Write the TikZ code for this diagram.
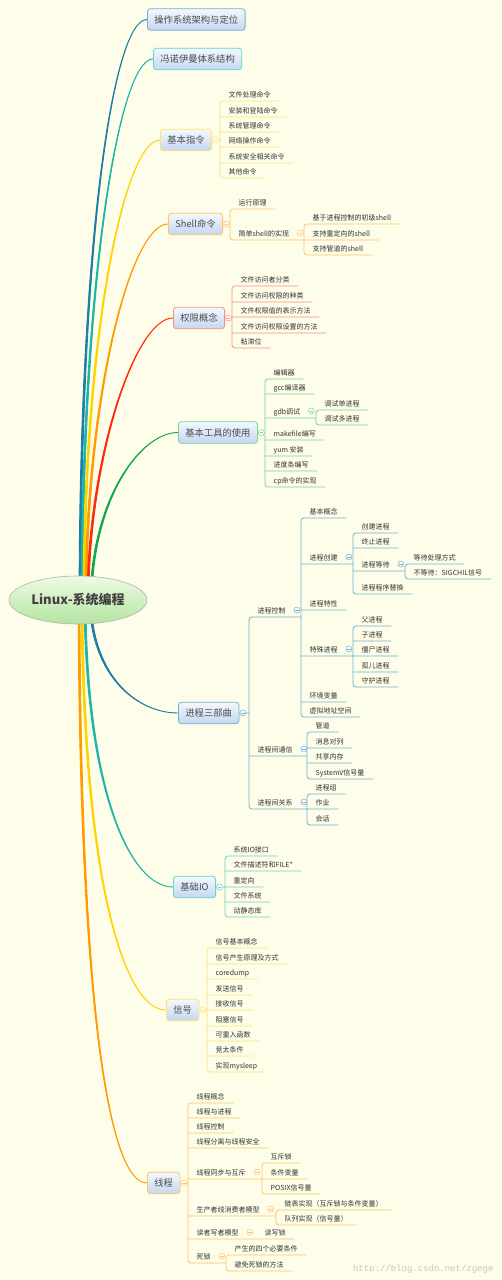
\documentclass[tikz,border=0pt]{standalone}
\usepackage{fontspec}
\setmainfont{Noto Sans CJK SC}
\newfontfamily\urlfont{Liberation Mono}
\usepackage{tikz}
\usetikzlibrary{shapes.geometric,calc}
\definecolor{paper}{HTML}{FDFDE9}
\definecolor{boxtop}{HTML}{F4F8FE}
\definecolor{boxbot}{HTML}{C4D7F0}
\definecolor{hubtop}{HTML}{EEFBE4}
\definecolor{hubbot}{HTML}{B4E4A0}
\definecolor{blueln}{HTML}{1E7DA6}
\definecolor{bluelt}{HTML}{70B2CE}
\definecolor{tealln}{HTML}{1CB6A6}
\definecolor{teallt}{HTML}{68D4C8}
\definecolor{yelln}{HTML}{FFD200}
\definecolor{yellt}{HTML}{FFE26A}
\definecolor{orgln}{HTML}{FF9A00}
\definecolor{orglt}{HTML}{FFC266}
\definecolor{redln}{HTML}{FF2A0A}
\definecolor{redlt}{HTML}{FF8E80}
\definecolor{grnln}{HTML}{10A84C}
\definecolor{grnlt}{HTML}{76D496}
\pgfdeclarelayer{sheet}
\pgfdeclarelayer{wires}
\pgfsetlayers{sheet,wires,main}
\newcommand\hubfont{\fontsize{13}{15}\selectfont\bfseries}
\newcommand\topicfont{\fontsize{9.3}{11}\selectfont}
\newcommand\leaffont{\fontsize{7}{8}\selectfont}

\begin{document}
\begin{tikzpicture}[x=1pt, y=-1pt,
  hub/.style={ellipse, draw=black!30, line width=0.6pt, top color=hubtop, bottom color=hubbot,
              minimum width=138pt, minimum height=48pt, inner sep=0pt, font=\hubfont, text=black!75},
  topic/.style={rectangle, rounded corners=3pt, draw=#1, line width=0.8pt, top color=boxtop,
                bottom color=boxbot, minimum height=21.5pt, inner xsep=7pt, anchor=west,
                font=\topicfont, text=black!70},
  leaf/.style={anchor=south west, inner xsep=8.5pt, inner ysep=1.5pt, text height=6pt,
               text depth=1.5pt, font=\leaffont, text=black!80},
  branch/.style={draw=#1, fill=#1, line width=0.9pt, line join=round},
  twig/.style={draw=#1, line width=0.8pt, rounded corners=3pt},
  knob/.style={circle, draw=#1, fill=white, line width=0.5pt, minimum size=6pt, inner sep=0pt,
               path picture={\draw[#1, line width=0.6pt]
                 ([xshift=-1.7pt]path picture bounding box.center) --
                 ([xshift=1.7pt]path picture bounding box.center);}},
]
\begin{pgfonlayer}{sheet}
  \fill[paper] (0,0) rectangle (501,1280);
\end{pgfonlayer}
\useasboundingbox (0,0) rectangle (501,1280);

\node[hub] (root) at (78,600) {Linux-系统编程};

% main topics
\node[topic=bluelt] (arch) at (147,19.5)  {操作系统架构与定位};
\node[topic=teallt] (vn)   at (153,59)    {冯诺伊曼体系结构};
\node[topic=yellt]  (cmd)  at (160,140)   {基本指令};
\node[topic=orglt]  (sh)   at (168,224)   {Shell命令};
\node[topic=redlt]  (perm) at (173,318)   {权限概念};
\node[topic=grnlt]  (tool) at (178,432.5) {基本工具的使用};
\node[topic=bluelt] (proc) at (178,713)   {进程三部曲};
\node[topic=teallt] (io)   at (173,887)   {基础IO};
\node[topic=yellt]  (sig)  at (166,1010)  {信号};
\node[topic=orglt]  (thr)  at (147,1183)  {线程};

% tapered branches from the hub
\begin{pgfonlayer}{wires}
\filldraw[branch=blueln] ([xshift=1.1pt]root.center) .. controls (79.1,250) and (112,19.5) .. (arch.west)
  .. controls (112,19.5) and (80.9,250) .. ([xshift=2.9pt]root.center) -- cycle;
\filldraw[branch=tealln] ([xshift=3.1pt]root.center) .. controls (81.1,290) and (118,59) .. (vn.west)
  .. controls (118,59) and (82.9,290) .. ([xshift=4.9pt]root.center) -- cycle;
\filldraw[branch=yelln] ([xshift=5.1pt]root.center) .. controls (83.1,330) and (125,140) .. (cmd.west)
  .. controls (125,140) and (84.9,330) .. ([xshift=6.9pt]root.center) -- cycle;
\filldraw[branch=orgln] ([xshift=7.1pt]root.center) .. controls (85.1,400) and (130,224) .. (sh.west)
  .. controls (130,224) and (86.9,400) .. ([xshift=8.9pt]root.center) -- cycle;
\filldraw[branch=redln] ([xshift=9.1pt]root.center) .. controls (87.1,460) and (135,318) .. (perm.west)
  .. controls (135,318) and (88.9,460) .. ([xshift=10.9pt]root.center) -- cycle;
\filldraw[branch=grnln] ([xshift=12.1pt]root.center) .. controls (91.1,500) and (140,432.5) .. (tool.west)
  .. controls (140,432.5) and (92.9,500) .. ([xshift=13.9pt]root.center) -- cycle;
\filldraw[branch=blueln] ([xshift=11.1pt]root.center) .. controls (91.1,680) and (140,713) .. (proc.west)
  .. controls (140,713) and (92.9,680) .. ([xshift=12.9pt]root.center) -- cycle;
\filldraw[branch=tealln] ([xshift=6.1pt]root.center) .. controls (85.1,790) and (130,887) .. (io.west)
  .. controls (130,887) and (86.9,790) .. ([xshift=7.9pt]root.center) -- cycle;
\filldraw[branch=yelln] ([xshift=3.1pt]root.center) .. controls (82.1,870) and (122,1010) .. (sig.west)
  .. controls (122,1010) and (83.9,870) .. ([xshift=4.9pt]root.center) -- cycle;
\filldraw[branch=orgln] ([xshift=0.1pt]root.center) .. controls (79.1,1000) and (108,1183) .. (thr.west)
  .. controls (108,1183) and (80.9,1000) .. ([xshift=1.9pt]root.center) -- cycle;
\end{pgfonlayer}

% 基本指令
\node[leaf] (cmd1) at (220,101) {文件处理命令};
\node[leaf] (cmd2) at (220,117) {安装和登陆命令};
\node[leaf] (cmd3) at (220,132) {系统管理命令};
\node[leaf] (cmd4) at (220,147) {网络操作命令};
\node[leaf] (cmd5) at (220,163) {系统安全相关命令};
\node[leaf] (cmd6) at (220,178) {其他命令};
\draw[twig=yellt] (cmd.east) -- (cmd.east -| cmd1.south west)
  (cmd1.south east) -- (cmd1.south west) -- (cmd6.south west) -- (cmd6.south east)
  (cmd2.south west) -- (cmd2.south east) (cmd3.south west) -- (cmd3.south east)
  (cmd4.south west) -- (cmd4.south east) (cmd5.south west) -- (cmd5.south east);
\node[knob=yellt] at ($(cmd.east)+(3.5,0)$) {};

% Shell命令
\node[leaf] (sh1)  at (230,209) {运行原理};
\node[leaf] (sh2)  at (230,240) {简单shell的实现};
\node[leaf] (sh21) at (304,224) {基于进程控制的初级shell};
\node[leaf] (sh22) at (304,240) {支持重定向的shell};
\node[leaf] (sh23) at (304,255) {支持管道的shell};
\draw[twig=orglt] (sh.east) -- (sh.east -| sh1.south west)
  (sh1.south east) -- (sh1.south west) -- (sh2.south west) -- (sh2.south west -| sh21.south west)
  (sh21.south east) -- (sh21.south west) -- (sh23.south west) -- (sh23.south east)
  (sh22.south west) -- (sh22.south east);
\node[knob=orglt] at ($(sh.east)+(3.5,0)$) {};
\node[knob=orglt] at ($(sh2.east)+(2.5,-1.5)$) {};

% 权限概念
\node[leaf] (perm1) at (232,286) {文件访问者分类};
\node[leaf] (perm2) at (232,302) {文件访问权限的种类};
\node[leaf] (perm3) at (232,317) {文件权限值的表示方法};
\node[leaf] (perm4) at (232,333) {文件访问权限设置的方法};
\node[leaf] (perm5) at (232,348) {粘滞位};
\draw[twig=redlt] (perm.east) -- (perm.east -| perm1.south west)
  (perm1.south east) -- (perm1.south west) -- (perm5.south west) -- (perm5.south east)
  (perm2.south west) -- (perm2.south east) (perm3.south west) -- (perm3.south east)
  (perm4.south west) -- (perm4.south east);
\node[knob=redlt] at ($(perm.east)+(3.5,0)$) {};

% 基本工具的使用
\node[leaf] (tool1)  at (265,379) {编辑器};
\node[leaf] (tool2)  at (265,394) {gcc编译器};
\node[leaf] (tool3)  at (265,418) {gdb调试};
\node[leaf] (tool4)  at (265,440) {makefile编写};
\node[leaf] (tool5)  at (265,456) {yum 安装};
\node[leaf] (tool6)  at (265,471) {进度条编写};
\node[leaf] (tool7)  at (265,487) {cp命令的实现};
\node[leaf] (tool31) at (316,410) {调试单进程};
\node[leaf] (tool32) at (316,425) {调试多进程};
\draw[twig=grnlt] (tool.east) -- (tool.east -| tool1.south west)
  (tool1.south east) -- (tool1.south west) -- (tool7.south west) -- (tool7.south east)
  (tool2.south west) -- (tool2.south east)
  (tool3.south west) -- (tool3.south west -| tool31.south west)
  (tool4.south west) -- (tool4.south east) (tool5.south west) -- (tool5.south east)
  (tool6.south west) -- (tool6.south east)
  (tool31.south east) -- (tool31.south west) -- (tool32.south west) -- (tool32.south east);
\node[knob=grnlt] at ($(tool.east)+(3.5,0)$) {};
\node[knob=grnlt] at ($(tool3.east)+(2.5,-1.5)$) {};

% 进程三部曲
\node[leaf] (pc)    at (249,617) {进程控制};
\node[leaf] (ipc)   at (249,756) {进程间通信};
\node[leaf] (rel)   at (249,809) {进程间关系};
\node[leaf] (pc1)   at (301,518) {基本概念};
\node[leaf] (pc2)   at (301,564) {进程创建};
\node[leaf] (pc3)   at (301,610) {进程特性};
\node[leaf] (pc4)   at (301,656) {特殊进程};
\node[leaf] (pc5)   at (301,702) {环境变量};
\node[leaf] (pc6)   at (301,717) {虚拟地址空间};
\node[leaf] (pc21)  at (353,533) {创建进程};
\node[leaf] (pc22)  at (353,548) {终止进程};
\node[leaf] (pc23)  at (353,571) {进程等待};
\node[leaf] (pc24)  at (353,594) {进程程序替换};
\node[leaf] (pc231) at (405,564) {等待处理方式};
\node[leaf] (pc232) at (405,579) {不等待：SIGCHIL信号};
\node[leaf] (pc41)  at (353,626) {父进程};
\node[leaf] (pc42)  at (353,641) {子进程};
\node[leaf] (pc43)  at (353,656) {僵尸进程};
\node[leaf] (pc44)  at (353,672) {孤儿进程};
\node[leaf] (pc45)  at (353,687) {守护进程};
\node[leaf] (ipc1)  at (307,732) {管道};
\node[leaf] (ipc2)  at (307,748) {消息对列};
\node[leaf] (ipc3)  at (307,763) {共享内存};
\node[leaf] (ipc4)  at (307,779) {SystemV信号量};
\node[leaf] (rel1)  at (307,794) {进程组};
\node[leaf] (rel2)  at (307,809) {作业};
\node[leaf] (rel3)  at (307,825) {会话};
\draw[twig=bluelt] (proc.east) -- (proc.east -| pc.south west)
  (pc.south west -| pc1.south west) -- (pc.south west) -- (rel.south west) -- (rel.south west -| rel1.south west)
  (ipc.south west) -- (ipc.south west -| ipc1.south west)
  (pc1.south east) -- (pc1.south west) -- (pc6.south west) -- (pc6.south east)
  (pc2.south west) -- (pc2.south west -| pc21.south west)
  (pc3.south west) -- (pc3.south east)
  (pc4.south west) -- (pc4.south west -| pc41.south west)
  (pc5.south west) -- (pc5.south east)
  (pc21.south east) -- (pc21.south west) -- (pc24.south west) -- (pc24.south east)
  (pc22.south west) -- (pc22.south east)
  (pc23.south west) -- (pc23.south west -| pc231.south west)
  (pc231.south east) -- (pc231.south west) -- (pc232.south west) -- (pc232.south east)
  (pc41.south east) -- (pc41.south west) -- (pc45.south west) -- (pc45.south east)
  (pc42.south west) -- (pc42.south east) (pc43.south west) -- (pc43.south east)
  (pc44.south west) -- (pc44.south east)
  (ipc1.south east) -- (ipc1.south west) -- (ipc4.south west) -- (ipc4.south east)
  (ipc2.south west) -- (ipc2.south east) (ipc3.south west) -- (ipc3.south east)
  (rel1.south east) -- (rel1.south west) -- (rel3.south west) -- (rel3.south east)
  (rel2.south west) -- (rel2.south east);
\node[knob=bluelt] at ($(proc.east)+(3.5,0)$) {};
\node[knob=bluelt] at ($(pc.east)+(2.5,-1.5)$) {};
\node[knob=bluelt] at ($(pc2.east)+(2.5,-1.5)$) {};
\node[knob=bluelt] at ($(pc23.east)+(2.5,-1.5)$) {};
\node[knob=bluelt] at ($(pc4.east)+(2.5,-1.5)$) {};
\node[knob=bluelt] at ($(ipc.east)+(2.5,-1.5)$) {};
\node[knob=bluelt] at ($(rel.east)+(2.5,-1.5)$) {};

% 基础IO
\node[leaf] (io1) at (225,856) {系统IO接口};
\node[leaf] (io2) at (225,871) {文件描述符和FILE*};
\node[leaf] (io3) at (225,887) {重定向};
\node[leaf] (io4) at (225,902) {文件系统};
\node[leaf] (io5) at (225,917) {动静态库};
\draw[twig=teallt] (io.east) -- (io.east -| io1.south west)
  (io1.south east) -- (io1.south west) -- (io5.south west) -- (io5.south east)
  (io2.south west) -- (io2.south east) (io3.south west) -- (io3.south east)
  (io4.south west) -- (io4.south east);
\node[knob=teallt] at ($(io.east)+(3.5,0)$) {};

% 信号
\node[leaf] (sig1) at (207,948)  {信号基本概念};
\node[leaf] (sig2) at (207,964)  {信号产生原理及方式};
\node[leaf] (sig3) at (207,979)  {coredump};
\node[leaf] (sig4) at (207,995)  {发送信号};
\node[leaf] (sig5) at (207,1010) {接收信号};
\node[leaf] (sig6) at (207,1026) {阻塞信号};
\node[leaf] (sig7) at (207,1041) {可重入函数};
\node[leaf] (sig8) at (207,1056) {竞太条件};
\node[leaf] (sig9) at (207,1072) {实现mysleep};
\draw[twig=yellt] (sig.east) -- (sig.east -| sig1.south west)
  (sig1.south east) -- (sig1.south west) -- (sig9.south west) -- (sig9.south east)
  (sig2.south west) -- (sig2.south east) (sig3.south west) -- (sig3.south east)
  (sig4.south west) -- (sig4.south east) (sig5.south west) -- (sig5.south east)
  (sig6.south west) -- (sig6.south east) (sig7.south west) -- (sig7.south east)
  (sig8.south west) -- (sig8.south east);
\node[knob=yellt] at ($(sig.east)+(3.5,0)$) {};

% 线程
\node[leaf] (thr1)  at (188,1103) {线程概念};
\node[leaf] (thr2)  at (188,1118) {线程与进程};
\node[leaf] (thr3)  at (188,1133) {线程控制};
\node[leaf] (thr4)  at (188,1148) {线程分离与线程安全};
\node[leaf] (thr5)  at (188,1179) {线程同步与互斥};
\node[leaf] (thr6)  at (188,1216) {生产者线消费者模型};
\node[leaf] (thr7)  at (188,1239) {读者写者模型};
\node[leaf] (thr8)  at (188,1263) {死锁};
\node[leaf] (thr51) at (262,1163) {互斥锁};
\node[leaf] (thr52) at (262,1179) {条件变量};
\node[leaf] (thr53) at (262,1194) {POSIX信号量};
\node[leaf] (thr61) at (276,1210) {链表实现（互斥锁与条件变量）};
\node[leaf] (thr62) at (276,1225) {队列实现（信号量）};
\node[leaf] (thr71) at (256,1239) {读写锁};
\node[leaf] (thr81) at (226,1255) {产生的四个必要条件};
\node[leaf] (thr82) at (226,1271) {避免死锁的方法};
\draw[twig=orglt] (thr.east) -- (thr.east -| thr1.south west)
  (thr1.south east) -- (thr1.south west) -- (thr8.south west) -- (thr8.south west -| thr81.south west)
  (thr2.south west) -- (thr2.south east) (thr3.south west) -- (thr3.south east)
  (thr4.south west) -- (thr4.south east)
  (thr5.south west) -- (thr5.south west -| thr51.south west)
  (thr6.south west) -- (thr6.south west -| thr61.south west)
  (thr7.south west) -- (thr71.south east)
  (thr51.south east) -- (thr51.south west) -- (thr53.south west) -- (thr53.south east)
  (thr52.south west) -- (thr52.south east)
  (thr61.south east) -- (thr61.south west) -- (thr62.south west) -- (thr62.south east)
  (thr81.south east) -- (thr81.south west) -- (thr82.south west) -- (thr82.south east);
\node[knob=orglt] at ($(thr.east)+(3.5,0)$) {};
\node[knob=orglt] at ($(thr5.east)+(2.5,-1.5)$) {};
\node[knob=orglt] at ($(thr6.east)+(2.5,-1.5)$) {};
\node[knob=orglt] at ($(thr7.east)+(2.5,-1.5)$) {};
\node[knob=orglt] at ($(thr8.east)+(2.5,-1.5)$) {};

\node[font=\urlfont\fontsize{9}{10}\selectfont, text=black!22, anchor=east] (wm) at (497,1269)
  {http://blog.csdn.net/zgege};
\end{tikzpicture}
\end{document}
